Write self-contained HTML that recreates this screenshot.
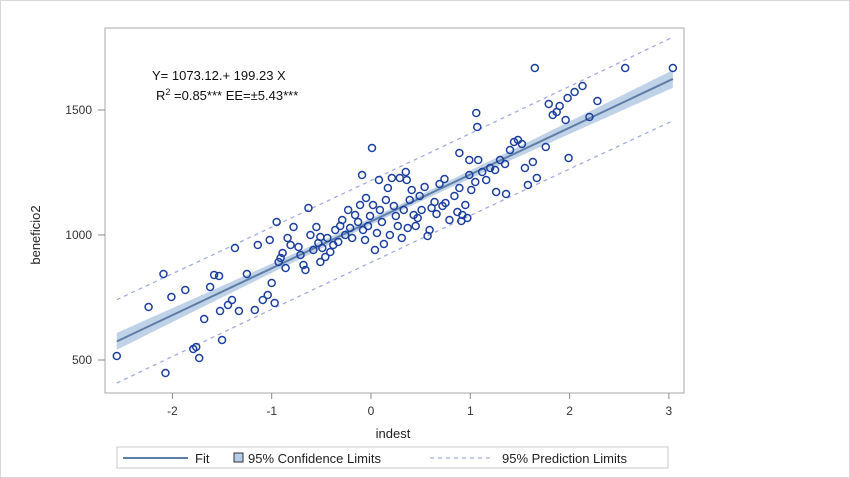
<!DOCTYPE html>
<html><head><meta charset="utf-8"><style>
html,body{margin:0;padding:0;background:#fff;}
#wrap{width:848px;height:476px;border:1px solid #d8d8d8;position:relative;overflow:hidden;}
svg text{font-family:"Liberation Sans",sans-serif;}
</style></head><body>
<div id="wrap">
<svg id="chart" width="850" height="478" viewBox="0 0 850 478" style="position:absolute;left:-1px;top:-1px">
<rect x="105" y="28" width="579" height="365" fill="#fff" stroke="#a8a8a8" stroke-width="1"/>
<g id="bandG"></g><g id="predG"></g><g id="fitG"></g><g id="ptsG"></g><g id="axG"></g>
<text x="152" y="80" font-size="13" fill="#111">Y= 1073.12.+ 199.23 X</text>
<text x="156" y="100" font-size="13" fill="#111">R<tspan dy="-5" font-size="9">2</tspan><tspan dy="5"> =0.85*** EE=±5.43***</tspan></text>
<text x="393" y="438" font-size="13" fill="#222" text-anchor="middle">indest</text>
<text transform="translate(40,235) rotate(-90)" font-size="13" fill="#222" text-anchor="middle">beneficio2</text>
<g>
<rect x="117" y="447" width="551" height="21" fill="#fff" stroke="#c8c8c8"/>
<line x1="123" y1="458" x2="188" y2="458" stroke="#5f7ea6" stroke-width="2"/>
<text x="195" y="463" font-size="13" fill="#222">Fit</text>
<rect x="234" y="453" width="9" height="9" fill="#b5cce6" stroke="#333" stroke-width="1"/>
<text x="248" y="463" font-size="13" fill="#222">95% Confidence Limits</text>
<line x1="430" y1="458" x2="490" y2="458" stroke="#a3abe2" stroke-width="1.3" stroke-dasharray="4,4"/>
<text x="502" y="463" font-size="13" fill="#222">95% Prediction Limits</text>
</g>
</svg></div>
<script>
const xTicks=[-2,-1,0,1,2,3];
const yTicks=[500,1000,1500];
const xVals=[-2.56,-2.07,-2.24,-2.09,-2.01,-1.87,-1.79,-1.76,-1.73,-1.68,-1.62,-1.58,-1.53,-1.52,-1.50,-1.44,-1.40,-1.33,-1.37,-1.25,-1.17,-1.14,-1.09,-1.04,-1.02,-1.00,-0.97,-0.95,-0.93,-0.91,-0.89,-0.86,-0.84,-0.81,-0.78,-0.73,-0.71,-0.68,-0.66,-0.63,-0.61,-0.58,-0.55,-0.53,-0.51,-0.49,-0.46,-0.44,-0.41,-0.38,-0.36,-0.33,-0.31,-0.29,-0.26,-0.23,-0.21,-0.19,-0.16,-0.13,-0.11,-0.09,-0.08,-0.06,-0.05,-0.03,-0.01,0.01,0.02,0.04,0.06,0.08,0.09,0.11,0.13,0.15,0.17,0.19,0.21,0.23,0.25,0.27,0.29,0.31,0.33,0.35,0.36,0.37,0.39,0.41,0.43,0.45,0.47,0.49,0.51,0.54,0.57,0.59,0.61,0.64,0.66,0.69,0.72,0.75,0.79,0.84,0.87,0.89,0.92,0.95,0.97,0.99,1.01,1.05,1.08,1.12,1.16,1.20,1.25,1.30,1.35,1.40,1.44,1.48,1.52,1.55,1.58,1.63,1.67,1.76,1.79,1.83,1.87,1.90,1.98,2.05,2.13,2.20,2.28,1.99,1.96,2.56,3.04,1.65,1.06,1.07,0.89,0.99,0.74,1.26,1.36,0.91,-0.51];
const yVals=[516,448,712,844,752,780,544,552,508,664,792,840,836,696,580,720,740,696,948,844,700,960,740,760,980,808,728,1052,892,908,928,868,988,960,1032,952,920,880,860,1108,1000,940,1032,968,992,948,912,988,932,960,1020,972,1036,1060,1000,1100,1028,988,1080,1052,1120,1240,1020,980,1148,1036,1076,1348,1120,940,1008,1220,1100,1052,964,1140,1188,1000,1228,1116,1076,1036,1228,988,1100,1252,1220,1028,1140,1180,1080,1036,1068,1156,1100,1192,996,1020,1108,1132,1084,1204,1116,1128,1060,1156,1092,1188,1080,1120,1068,1240,1180,1212,1300,1252,1220,1268,1260,1300,1284,1340,1372,1380,1364,1268,1200,1292,1228,1352,1524,1480,1492,1516,1548,1572,1596,1472,1536,1308,1460,1668,1668,1668,1488,1432,1328,1300,1224,1172,1164,1056,892];
const NS="http://www.w3.org/2000/svg";
const sx=v=>371+v*99.3, sy=v=>235-(v-1000)*0.25;
function mk(tag,at,parent){const e=document.createElementNS(NS,tag);for(const k in at)e.setAttribute(k,at[k]);parent.appendChild(e);return e;}
const g=id=>document.getElementById(id);
const n=xVals.length;let mx=0,my=0;for(let i=0;i<n;i++){mx+=xVals[i];my+=yVals[i];}mx/=n;my/=n;
let sxx=0,sxy=0;for(let i=0;i<n;i++){sxx+=(xVals[i]-mx)**2;sxy+=(xVals[i]-mx)*(yVals[i]-my);}
const b=sxy/sxx*0.96,a=my-b*mx;let sse=0;for(let i=0;i<n;i++)sse+=(yVals[i]-a-b*xVals[i])**2;const s=Math.sqrt(sse/(n-2));
const x0=Math.min(...xVals),x1=Math.max(...xVals);
const steps=40,up=[],lo=[],pu=[],pl=[];
for(let k=0;k<=steps;k++){const x=x0+(x1-x0)*k/steps,f=a+b*x;
 const se=s*Math.sqrt(1/n+(x-mx)**2/sxx),sp=s*Math.sqrt(1+1/n+(x-mx)**2/sxx);
 up.push([sx(x),sy(f+1.6*se)]);lo.push([sx(x),sy(f-1.6*se)]);pu.push([sx(x),sy(f+1.62*sp)]);pl.push([sx(x),sy(f-1.62*sp)]);}
const band=mk('polygon',{points:up.concat(lo.reverse()).map(p=>p.join(',')).join(' '),fill:'#a9c3e0','fill-opacity':'0.75'},g('bandG'));


[pu,pl].forEach((arr,i)=>{const l=mk('polyline',{points:arr.map(p=>p.join(',')).join(' '),fill:'none',stroke:'#a3abe2','stroke-width':1.3,'stroke-dasharray':'4,4'},g('predG'));
 
 });
const fit=mk('line',{x1:sx(x0),y1:sy(a+b*x0),x2:sx(x1),y2:sy(a+b*x1),stroke:'#5f7ea6','stroke-width':2},g('fitG'));


for(let i=0;i<n;i++){const c=mk('circle',{cx:sx(xVals[i]),cy:sy(yVals[i]),r:3.5,fill:'none',stroke:'#1c3f9e','stroke-width':1.5},g('ptsG'));
 
 }
xTicks.forEach(t=>{const l=mk('line',{x1:sx(t),x2:sx(t),y1:393,y2:399,stroke:'#888'},g('axG'));
 
 
 const tx=mk('text',{x:sx(t),y:415,'font-size':12,fill:'#333','text-anchor':'middle'},g('axG'));tx.textContent=t;
 
 });
yTicks.forEach(t=>{const l=mk('line',{x1:98,x2:105,y1:sy(t),y2:sy(t),stroke:'#888'},g('axG'));
 
 
 const tx=mk('text',{x:92,y:sy(t)+4,'font-size':12,fill:'#333','text-anchor':'end'},g('axG'));tx.textContent=t;
 
 });
</script>
</body></html>
